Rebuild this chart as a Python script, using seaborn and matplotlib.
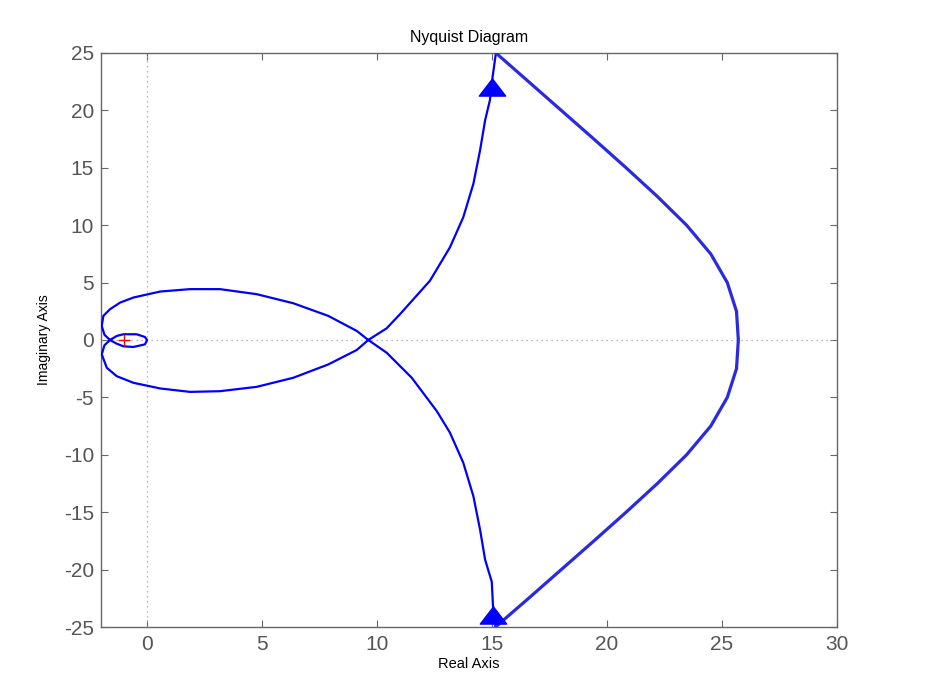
import numpy as np
import pandas as pd
import matplotlib
matplotlib.use("Agg")
import matplotlib.pyplot as plt
import seaborn as sns

# ---- data (Real, Imag) ----
# upper-right branch, top -> crossing
branch_ur_x = [15.17, 15.03, 14.91, 14.70, 14.48, 14.19, 13.75, 13.17, 12.30, 11.00, 10.42, 9.62]
branch_ur_y = [25.0, 22.99, 20.90, 19.14, 16.52, 13.61, 10.69, 8.07, 5.16, 2.25, 1.02, 0.0]
# lower half of main loop, crossing -> left
loop_lo_x = [9.12, 7.88, 6.36, 4.77, 3.17, 1.87, 0.57, -0.59, -1.32, -1.75, -1.97]
loop_lo_y = [-0.87, -2.13, -3.29, -4.08, -4.46, -4.52, -4.22, -3.73, -3.15, -2.42, -1.25]
# small loop around -1
small_x = [-1.85, -1.61, -1.32, -1.03, -0.45, -0.09, 0.0, -0.09, -0.60, -1.03, -1.32, -1.61, -1.85]
small_y = [-0.45, 0.0, 0.35, 0.50, 0.50, 0.26, 0.0, -0.38, -0.61, -0.55, -0.32, 0.0, 0.45]
# upper half of main loop, left -> crossing
loop_up_x = [-1.97, -1.90, -1.61, -1.17, -0.59, 0.57, 1.87, 3.17, 4.77, 6.36, 7.88, 9.12, 9.62]
loop_up_y = [1.22, 2.10, 2.68, 3.26, 3.70, 4.22, 4.43, 4.43, 3.99, 3.20, 2.10, 0.79, 0.0]
# lower-right branch, crossing -> bottom
branch_lr_x = [10.42, 11.51, 12.60, 13.17, 13.75, 14.19, 14.48, 14.70, 14.99, 15.04, 15.15]
branch_lr_y = [-1.11, -3.29, -6.20, -8.07, -10.69, -13.61, -16.52, -19.14, -21.07, -23.10, -25.0]
# large right arc, bottom -> top
arc_x = [15.15, 16.59, 18.01, 19.43, 20.83, 22.19, 23.46, 24.51, 25.23, 25.63, 25.71,
         25.63, 25.23, 24.51, 23.46, 22.19, 20.83, 19.43, 18.01, 16.59, 15.17]
arc_y = [-25.0, -22.5, -20.0, -17.5, -15.0, -12.5, -10.0, -7.5, -5.0, -2.5, 0.0,
         2.5, 5.0, 7.5, 10.0, 12.5, 15.0, 17.5, 20.0, 22.5, 25.0]
# direction arrows
arrow_x = [15.0, 15.04]
arrow_y = [22.0, -23.95]
# critical point
crit_x = [-1.0]
crit_y = [0.0]

xticks = [0, 5, 10, 15, 20, 25, 30]
yticks = [-25, -20, -15, -10, -5, 0, 5, 10, 15, 20, 25]

sns.set_theme(style="white")
plt.rcParams['font.family'] = ['Liberation Sans', 'DejaVu Sans']

fig = plt.figure(figsize=(9.33, 6.98), dpi=100)
ax = fig.add_axes([0.1083, 0.1017, 0.7888, 0.8224])

curve_x = branch_ur_x + loop_lo_x + small_x + loop_up_x + branch_lr_x
curve_y = branch_ur_y + loop_lo_y + small_y + loop_up_y + branch_lr_y
curve = pd.DataFrame({"re": curve_x, "im": curve_y, "order": np.arange(len(curve_x))})
arc = pd.DataFrame({"re": arc_x, "im": arc_y, "order": np.arange(len(arc_x))})

# zero lines
ax.axhline(0, color="#a0a0a0", linestyle=(0, (1, 3)), linewidth=0.9, zorder=1)
ax.axvline(0, color="#a0a0a0", linestyle=(0, (1, 3)), linewidth=0.9, zorder=1)

sns.lineplot(data=curve, x="re", y="im", sort=False, estimator=None, color="#0000ff",
             linewidth=1.6, ax=ax, zorder=3)
sns.lineplot(data=arc, x="re", y="im", sort=False, estimator=None, color="#2a2ae0",
             linewidth=2.3, ax=ax, zorder=3)

tri = [(0, 0.65), (-1, -0.65), (1, -0.65), (0, 0.65)]
ax.plot(arrow_x, arrow_y, linestyle="none", marker=tri, markersize=19,
        color="#0000ff", markeredgecolor="#0000ff", zorder=4)
ax.plot(crit_x, crit_y, linestyle="none", marker="+", markersize=9,
        color="#ff0000", markeredgewidth=1.0, zorder=5)

ax.set_xlim(-2, 30)
ax.set_ylim(-25, 25)
ax.set_xticks(xticks)
ax.set_yticks(yticks)
ax.set_xticklabels([str(t) for t in xticks])
ax.set_yticklabels([str(t) for t in yticks])

for s in ax.spines.values():
    s.set_visible(True)
    s.set_color("#666666")
    s.set_linewidth(1.0)

ax.tick_params(axis="both", direction="in", length=5, width=0.8, color="#666666",
               labelsize=15, labelcolor="#555555", top=True, right=True,
               bottom=True, left=True)
ax.tick_params(axis="x", pad=6)
ax.tick_params(axis="y", pad=5)

ax.set_title("Nyquist Diagram", fontsize=11.5, color="black", pad=8)
ax.set_xlabel("Real Axis", fontsize=10.5, color="black", labelpad=2)
ax.set_ylabel("Imaginary Axis", fontsize=10, color="black", labelpad=9)

fig.savefig("out.png", dpi=100, facecolor="white")
